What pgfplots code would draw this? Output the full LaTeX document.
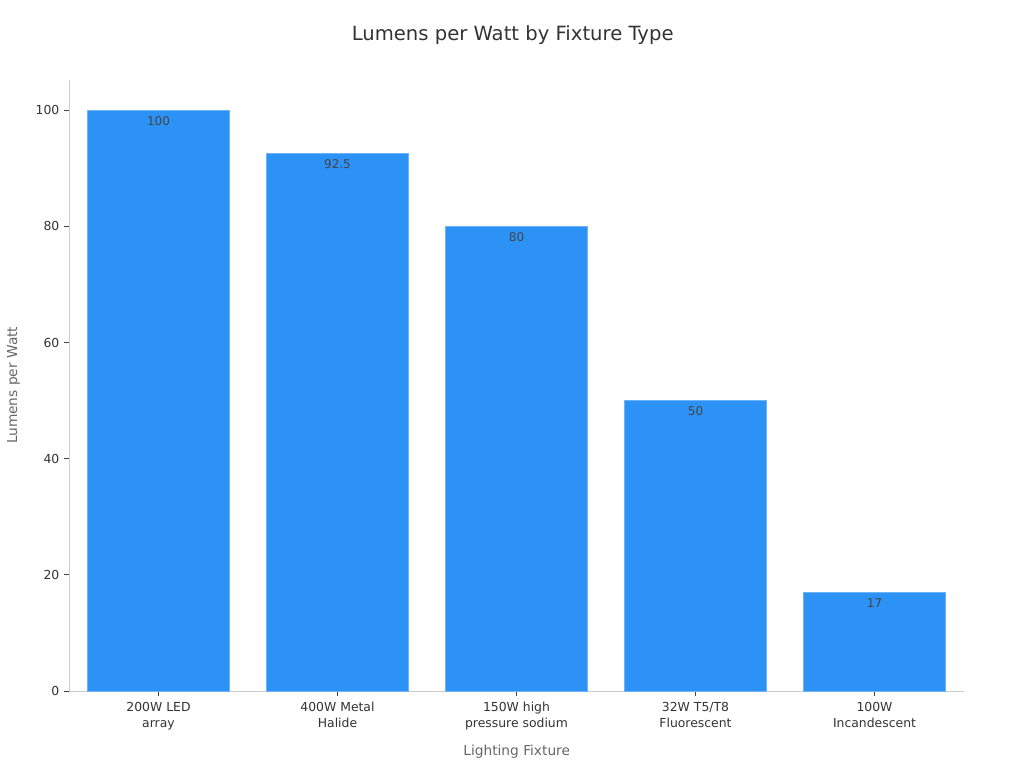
\documentclass[border=0pt]{standalone}
\usepackage{pgfplots}
\pgfplotsset{compat=1.18}
\usepackage{fontspec}
\setmainfont{DejaVu Sans}
\definecolor{barblue}{RGB}{45,146,246}
\definecolor{baredge}{RGB}{110,178,248}
\definecolor{axgray}{RGB}{204,204,204}
\definecolor{tickgray}{RGB}{68,68,68}
\definecolor{labgray}{RGB}{102,102,102}
\definecolor{txt}{RGB}{51,51,51}
\begin{document}
\begin{tikzpicture}[x=1pt,y=1pt]
\useasboundingbox (0,0) rectangle (768,576);
\begin{axis}[
  at={(51.75pt,57.75pt)}, anchor=south west,
  scale only axis, width=671.25pt, height=458.25pt,
  xmin=-0.5, xmax=4.5, ymin=0, ymax=105.2,
  axis x line*=bottom, axis y line*=left,
  axis line style={draw=axgray, line width=0.75pt},
  x axis line style={-}, y axis line style={-},
  xtick={0,1,2,3,4},
  xticklabels={{200W LED\\array},{400W Metal\\Halide},{150W high\\pressure sodium},{32W T5/T8\\Fluorescent},{100W\\Incandescent}},
  x tick label style={align=center, font=\fontsize{9.3}{12}\selectfont, text=txt, yshift=-1pt},
  ytick={0,20,40,60,80,100},
  y tick label style={font=\fontsize{9.3}{11}\selectfont, text=txt},
  /pgf/number format/assume math mode=true,
  tick style={draw=tickgray, line width=0.6pt},
  tick align=outside, major tick length=3.75pt,
  xtick pos=bottom, ytick pos=left,
  ybar, bar width=106.5pt,
  nodes near coords,
  every node near coord/.append style={anchor=north, font=\fontsize{9}{11}\selectfont, text=tickgray, yshift=-1pt},
  clip=false,
]
\addplot[fill=barblue, draw=baredge, line width=0.6pt] coordinates {(0,100) (1,92.5) (2,80) (3,50) (4,17)};
\end{axis}
\node[font=\fontsize{14.7}{17}\selectfont, text=txt] at (384.5,549.75) {Lumens per Watt by Fixture Type};
\node[font=\fontsize{10.3}{12}\selectfont, text=labgray] at (387.5,12) {Lighting Fixture};
\node[font=\fontsize{10.3}{12}\selectfont, text=labgray, rotate=90] at (10.25,287) {Lumens per Watt};
\end{tikzpicture}
\end{document}
